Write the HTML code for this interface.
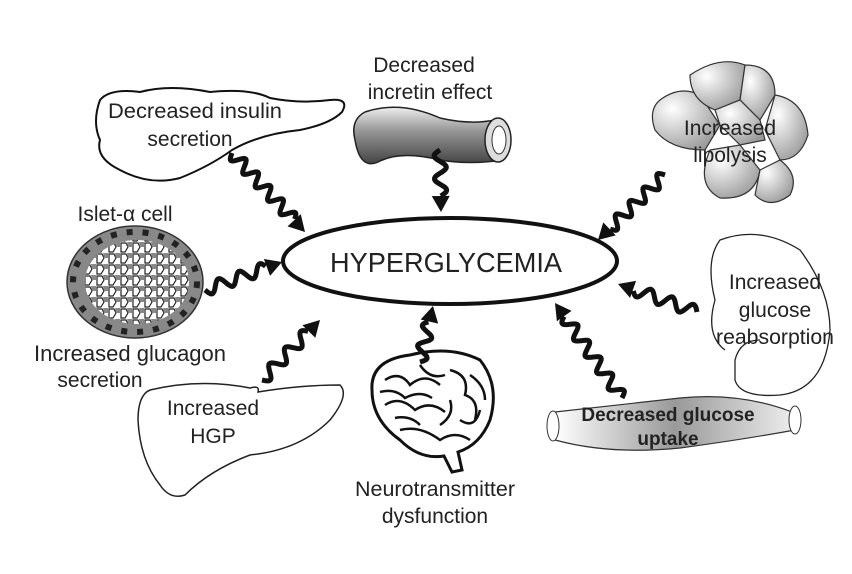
<!DOCTYPE html>
<html><head><meta charset="utf-8"><style>
html,body{margin:0;padding:0;background:#fff;}
svg{display:block;}
text{font-family:"Liberation Sans",sans-serif;fill:#222;}
</style></head><body>
<svg id="s" width="852" height="574" viewBox="0 0 852 574" xmlns="http://www.w3.org/2000/svg">
<defs>
<linearGradient id="tube" x1="0" y1="0" x2="0" y2="1"><stop offset="0" stop-color="#eee"/><stop offset="0.4" stop-color="#999"/><stop offset="1" stop-color="#444"/></linearGradient>
<radialGradient id="fat" cx="0.3" cy="0.3" r="0.8"><stop offset="0" stop-color="#fff"/><stop offset="1" stop-color="#999"/></radialGradient>
<linearGradient id="mus" x1="0" y1="0" x2="1" y2="0"><stop offset="0" stop-color="#fff"/><stop offset="0.5" stop-color="#999"/><stop offset="1" stop-color="#eee"/></linearGradient>
<pattern id="cells" width="12" height="11" patternUnits="userSpaceOnUse"><rect width="12" height="11" fill="#fff"/><path d="M1 1h5l2 4-3 5H1z" fill="#fff" stroke="#222" stroke-width="1.2"/><path d="M7 0h5v5H8z" fill="#888"/></pattern>
</defs>
<!-- Pancreas -->
<path d="M100 100 Q110 88 140 92 Q170 84 210 92 Q250 88 270 98 Q300 104 330 100 Q350 98 342 112 Q330 124 300 130 Q260 134 232 150 Q210 166 180 178 Q150 186 120 170 Q95 158 100 140 Q92 122 100 100Z" fill="#fff" stroke="#111" stroke-width="2"/>
<text x="195" y="118" font-size="21" text-anchor="middle" textLength="174" lengthAdjust="spacingAndGlyphs">Decreased insulin</text>
<text x="190" y="146" font-size="21" text-anchor="middle">secretion</text>
<!-- Tube -->
<path d="M355 140 Q350 120 365 112 Q400 100 440 118 Q470 125 495 120 L502 160 Q470 165 440 160 Q400 150 378 162 Q360 170 355 140Z" fill="url(#tube)" stroke="#222" stroke-width="1.5"/>
<ellipse cx="498" cy="140" rx="13" ry="22" fill="#ddd" stroke="#222" stroke-width="1.5"/>
<ellipse cx="499" cy="140" rx="7" ry="14" fill="#fff" stroke="#333"/>
<text x="424" y="72" font-size="21" text-anchor="middle">Decreased</text>
<text x="430" y="99" font-size="21" text-anchor="middle">incretin effect</text>
<!-- Fat cells -->
<g fill="url(#fat)" stroke="#333" stroke-width="1.2">
<path d="M660 100 Q680 85 700 95 L720 125 L705 150 Q670 150 655 130 Q648 110 660 100Z"/>
<path d="M690 75 Q720 55 745 65 L740 100 L715 110 Q690 100 690 75Z"/>
<path d="M745 65 Q775 65 775 95 L760 120 L740 100Z"/>
<path d="M775 95 Q805 100 808 135 Q800 160 780 160 L765 130Z"/>
<path d="M710 150 L740 145 L760 170 Q755 200 720 198 Q695 185 710 150Z"/>
<path d="M760 170 L780 160 Q800 175 790 195 Q770 210 755 195Z"/>
<path d="M715 110 L740 100 L760 120 L765 140 L740 145 L720 125Z"/>
</g>
<text x="730" y="135" font-size="21" text-anchor="middle">Increased</text>
<text x="730" y="162" font-size="21" text-anchor="middle">lipolysis</text>
<!-- Kidney -->
<path d="M725 350 Q705 335 715 300 Q705 260 720 240 Q760 225 800 250 Q830 290 830 330 Q825 390 780 395 Q740 398 735 380 L735 360 Q740 340 760 340" fill="none" stroke="#222" stroke-width="1.3"/>
<text x="775" y="289" font-size="21" text-anchor="middle">Increased</text>
<text x="775" y="317" font-size="21" text-anchor="middle">glucose</text>
<text x="775" y="344" font-size="21" text-anchor="middle" textLength="118" lengthAdjust="spacingAndGlyphs">reabsorption</text>
<!-- Muscle -->
<path d="M555 412 Q620 405 680 398 Q740 392 792 412 L795 430 Q740 440 680 448 Q610 455 555 440Z" fill="url(#mus)" stroke="#333" stroke-width="1.2"/>
<ellipse cx="553" cy="426" rx="6" ry="15" fill="#fff" stroke="#333"/>
<ellipse cx="795" cy="420" rx="6" ry="14" fill="#fff" stroke="#333"/>
<text x="668" y="421" font-size="19" font-weight="bold" text-anchor="middle" fill="#111">Decreased  glucose</text>
<text x="668" y="445" font-size="19" font-weight="bold" text-anchor="middle" fill="#111">uptake</text>
<!-- Brain -->
<path d="M372 390 Q370 360 410 355 Q450 345 480 360 Q500 385 490 420 Q480 445 458 452 L462 470 L452 472 L444 456 Q420 460 400 440 Q372 420 372 390Z" fill="#fff" stroke="#111" stroke-width="3"/>
<g fill="none" stroke="#111" stroke-width="2.5">
<path d="M385 380 Q400 370 410 385 Q425 372 440 385"/><path d="M450 370 Q470 375 465 395 Q480 400 475 420"/>
<path d="M385 405 Q400 395 415 410 Q430 400 445 412"/><path d="M400 430 Q420 425 440 440 Q455 430 470 440"/>
<path d="M420 365 Q430 380 445 375"/><path d="M450 400 Q455 415 440 425"/>
<path d="M380 392 Q395 388 405 398 Q420 390 432 398"/><path d="M460 420 Q475 430 480 410"/>
<path d="M395 418 Q410 415 420 425"/><path d="M470 375 Q485 385 485 400"/>
</g>
<text x="435" y="496" font-size="21" text-anchor="middle" textLength="160" lengthAdjust="spacingAndGlyphs">Neurotransmitter</text>
<text x="435" y="523" font-size="21" text-anchor="middle">dysfunction</text>
<!-- Liver -->
<path d="M150 390 Q200 378 250 388 Q260 385 258 392 Q300 385 340 385 Q350 395 330 420 Q300 450 250 455 Q210 470 185 495 Q170 500 160 485 Q140 460 138 420 Q138 395 150 390Z" fill="#fff" stroke="#222" stroke-width="1.5"/>
<text x="213" y="415" font-size="21" text-anchor="middle">Increased</text>
<text x="213" y="443" font-size="21" text-anchor="middle">HGP</text>
<!-- Islet -->
<ellipse cx="135" cy="282" rx="68" ry="56" fill="#888" stroke="#333" stroke-width="1.5"/>
<ellipse cx="135" cy="282" rx="62" ry="50" fill="none" stroke="#222" stroke-width="6" stroke-dasharray="6 10"/>
<ellipse cx="137" cy="282" rx="52" ry="42" fill="url(#cells)"/>
<text x="125" y="221" font-size="21" text-anchor="middle">Islet-α cell</text>
<text x="130" y="361" font-size="22" text-anchor="middle">Increased glucagon</text>
<text x="100" y="387" font-size="21" text-anchor="middle">secretion</text>
<!-- Center -->
<ellipse cx="450" cy="261" rx="167" ry="43" fill="#fff" stroke="#111" stroke-width="4"/>
<text x="446" y="272" font-size="28" text-anchor="middle" fill="#111" textLength="232" lengthAdjust="spacingAndGlyphs">HYPERGLYCEMIA</text>
<g id="arrows"></g>
</svg>
<script>
var A=[[232,153,305,232],[440,150,441,212],[665,175,598,240],[205,290,282,262],[697,312,618,284],[262,380,320,320],[420,362,433,306],[622,398,555,303]];
var g=document.getElementById('arrows'),h='';
A.forEach(function(a){var dx=a[2]-a[0],dy=a[3]-a[1],L=Math.hypot(dx,dy),ux=dx/L,uy=dy/L,px=-uy,py=ux,hl=16,wl=L-hl,d='';
var n=Math.max(1,Math.round(wl/20));
for(var t=0;t<=wl;t+=1){var o=6*Math.sin(t/wl*Math.PI*2*n),x=a[0]+ux*t+px*o,y=a[1]+uy*t+py*o;d+=(t?'L':'M')+x.toFixed(1)+' '+y.toFixed(1);}
h+='<path d="'+d+'" fill="none" stroke="#111" stroke-width="5"/>';
var bx=a[0]+ux*wl,by=a[1]+uy*wl;
h+='<polygon fill="#111" points="'+a[2]+','+a[3]+' '+(bx+px*9)+','+(by+py*9)+' '+(bx-px*9)+','+(by-py*9)+'"/>';});
g.innerHTML=h;
</script>
</body></html>
